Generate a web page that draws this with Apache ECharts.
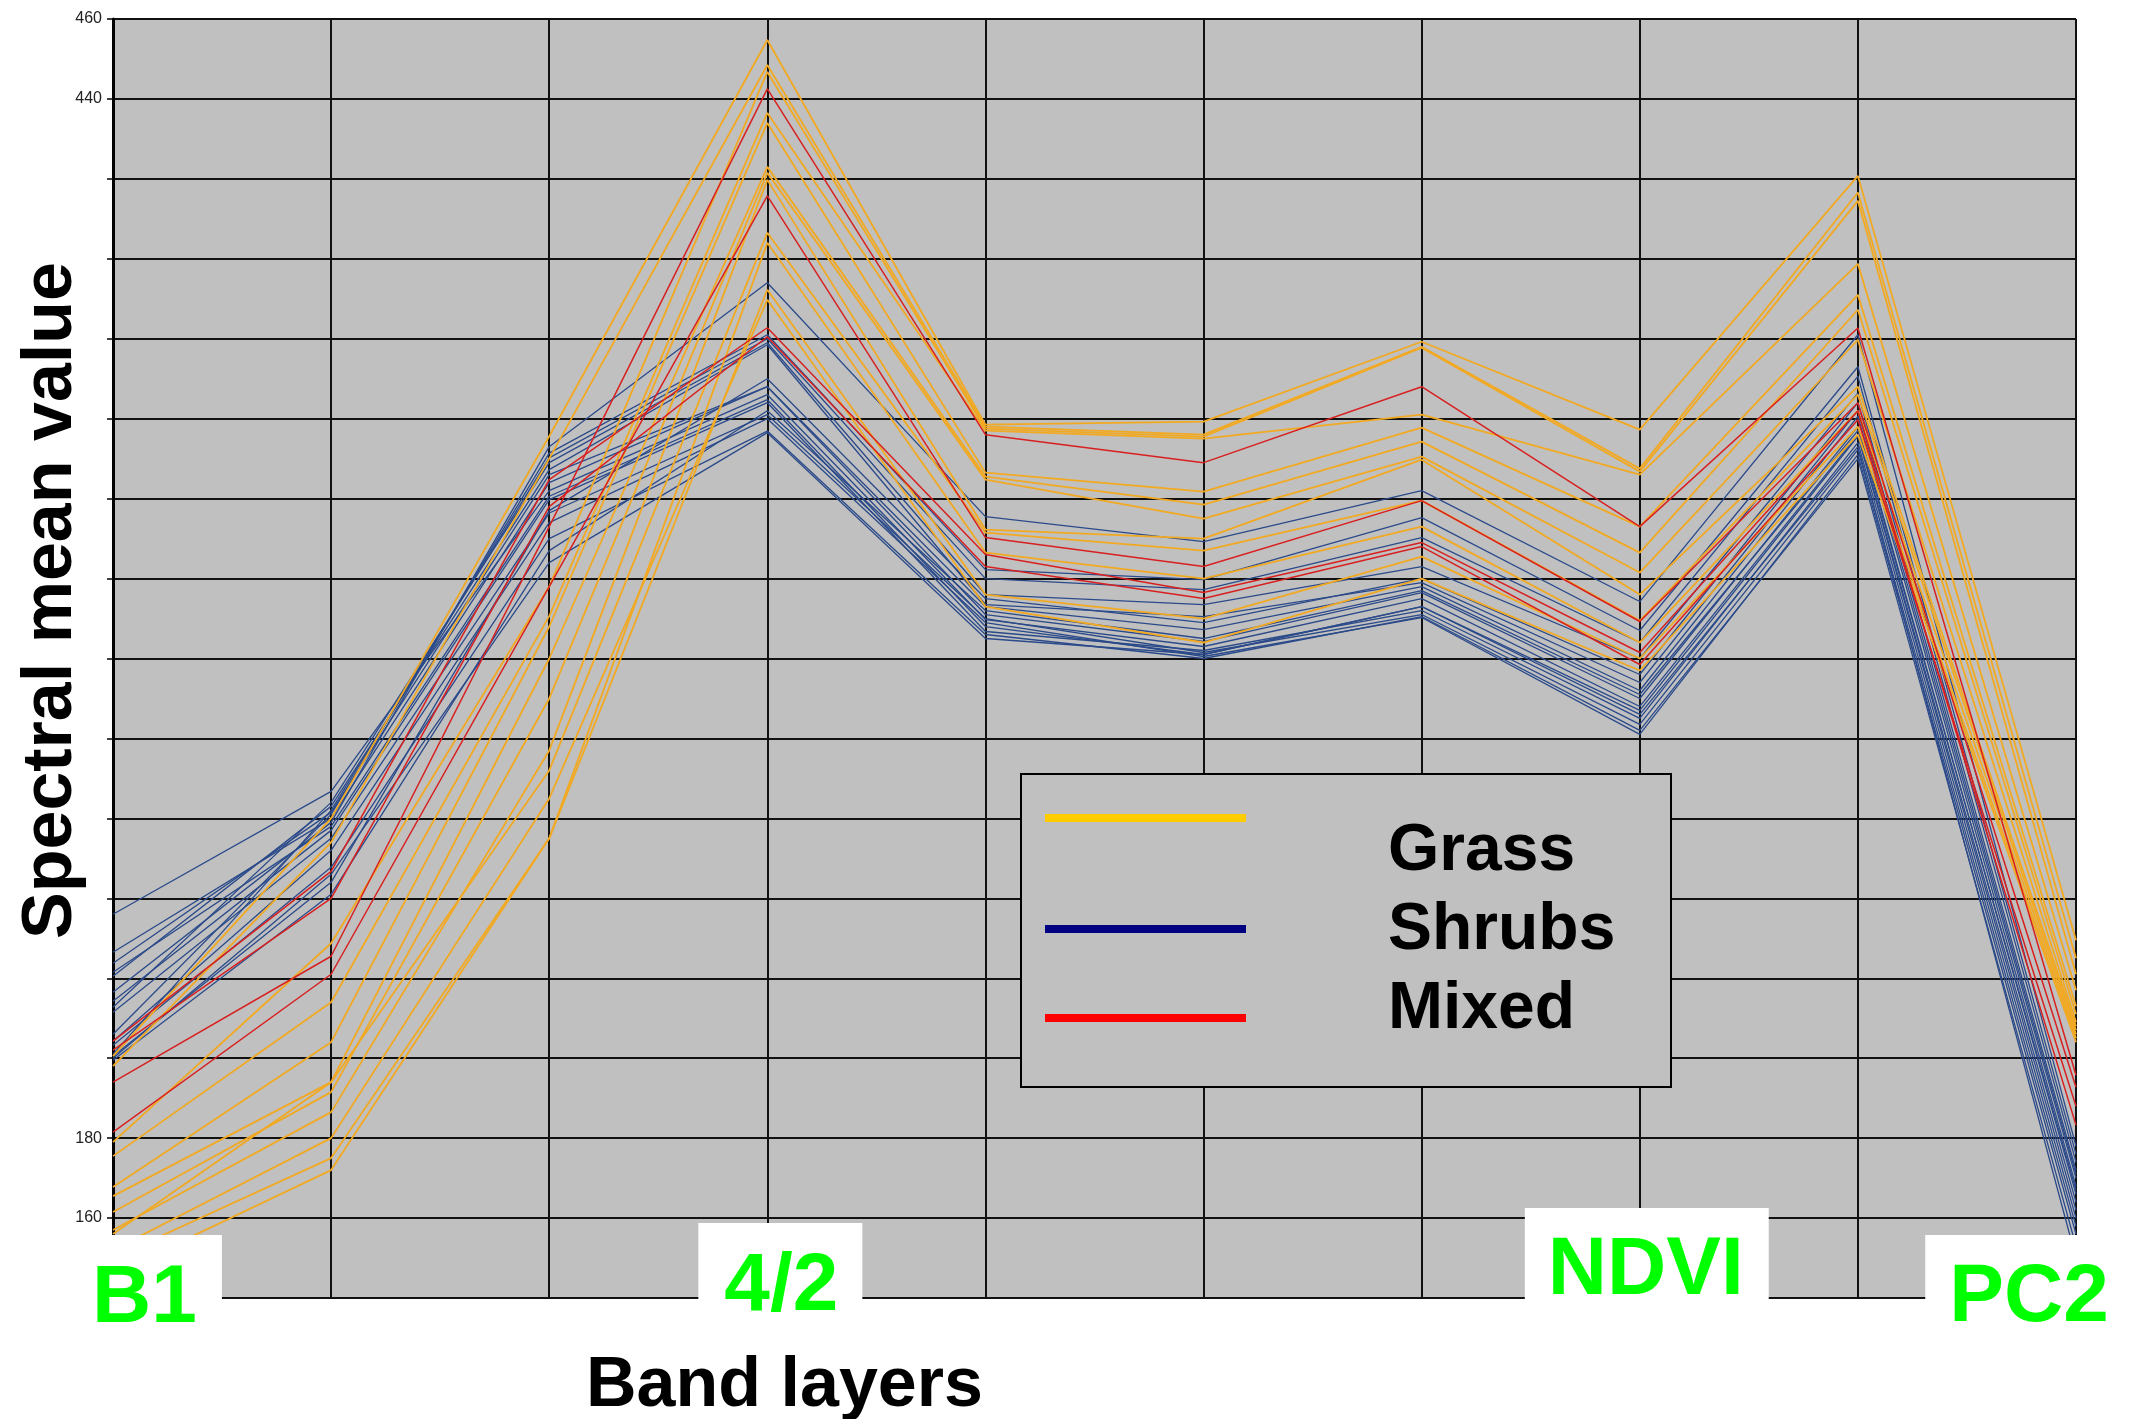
<!DOCTYPE html>
<html><head><meta charset="utf-8">
<script src="https://cdn.jsdelivr.net/npm/echarts@6/dist/echarts.min.js"></script>
<style>html,body{margin:0;padding:0;background:#fff}#c{width:2140px;height:1419px}</style>
</head><body><div id="c"></div>
<script>
// ---- data ----
const bandLayers = ['B1', 'b2', 'b3', '4/2', 'b5', 'b6', 'b7', 'NDVI', 'b9', 'PC2'];
const tickLabels = ['B1', '', '', '4/2', '', '', '', 'NDVI', '', 'PC2'];
const yLabelsShown = [460, 440, 180, 160];
const legendNames = ['Grass', 'Shrubs', 'Mixed'];

const grass = [
  [200.5, 260, 355.6, 454.75, 358.5, 359.25, 379.25, 357.25, 420.75, 229.5],
  [198, 254, 350, 448.5, 358, 356, 378, 347.5, 416.6, 225],
  [179, 228.75, 318, 446.75, 357.5, 355.5, 377.75, 346.75, 414.5, 221],
  [175.5, 214, 310.6, 436.5, 357, 355, 361, 346, 398.75, 217],
  [167.75, 204, 308, 434, 346.5, 341.75, 357.75, 333, 391, 213],
  [165.5, 194, 300, 423, 345.5, 338.5, 354.25, 326.5, 387.25, 211],
  [161.5, 191.5, 290, 421.5, 344.75, 335, 350.5, 321.5, 379.75, 209],
  [157, 186.5, 277, 419.75, 332.25, 330, 349.75, 316, 368, 208],
  [156, 194, 272, 406.5, 331.5, 327, 339.5, 309.5, 366, 207],
  [150, 175, 255, 404, 326.5, 320, 333, 304, 362, 206],
  [146, 172, 255, 392.25, 316, 310, 325.5, 300, 358, 205],
  [152, 180, 265, 389.75, 313, 304, 320, 297, 356, 204]
];

const shrubs = [
  [216.5, 259, 353, 394, 335.5, 329.25, 342, 314.25, 381, 178],
  [206, 261, 351.4, 381, 322.25, 319.75, 335.25, 307, 373, 176],
  [201, 262, 350.2, 380, 320, 317.25, 330.25, 304, 370.6, 174],
  [212.75, 264, 349, 379, 316, 313.5, 323, 300, 366.4, 172],
  [220.5, 263, 347.25, 378.5, 313.5, 310.5, 319, 294, 362, 170],
  [223.75, 261.5, 346, 368, 313, 307.25, 318, 292, 360.6, 168],
  [226.5, 260, 344, 368, 311, 304.25, 316.5, 290, 358, 166],
  [236, 266.75, 342, 366, 309.75, 303, 315, 288, 356, 164],
  [221.5, 258, 340.6, 364.75, 308, 301, 313, 287, 355.6, 162],
  [214.25, 257, 339.75, 364, 306.75, 302, 312, 285, 354, 160],
  [211.5, 255, 336.4, 361, 310, 301.5, 311, 283.5, 352.25, 158],
  [204.25, 252, 334, 360, 309, 300.5, 310.25, 281, 351, 156],
  [203.25, 247.75, 330, 356.9, 306, 300, 310.5, 282, 350, 153],
  [200, 246, 324, 356.5, 305, 301, 313, 286, 353, 150],
  [199.5, 241, 327, 362, 312, 305, 317, 291, 357, 167],
  [200.5, 244, 337, 370, 315, 309, 320, 296, 364, 171]
];

const mixed = [
  [194, 225.5, 333, 442.5, 356, 349, 368, 333, 382.7, 195.75],
  [181.5, 221, 318, 415.75, 330.25, 323, 339.5, 309.25, 364, 192.75],
  [204.25, 246.75, 344.75, 382.75, 326, 316.5, 329, 301.5, 362, 183.25],
  [202, 240, 338, 380.5, 323, 315, 328, 298.5, 359.75, 188]
];

// ---- styles ----
const FONT = '"Liberation Sans", Arial, Helvetica, sans-serif';
const lineColors = { Grass: '#F2A922', Shrubs: '#2B4A8A', Mixed: '#D82020' };
const legendColors = { Grass: '#FFCC00', Shrubs: '#000080', Mixed: '#FF0000' };
const lineWidths = { Grass: 1.8, Shrubs: 1.3, Mixed: 1.5 };

function mk(name, rows) {
  return rows.map(r => ({
    type: 'line', name: name, data: r, xAxisIndex: 0, yAxisIndex: 0,
    symbol: 'none', silent: true, z: 2,
    lineStyle: { color: lineColors[name], width: lineWidths[name] },
    itemStyle: { color: legendColors[name] }
  }));
}

const legText = { fontSize: 66, fontWeight: 'bold', color: '#000', fontFamily: FONT };
const legendRich = {
  Grass: Object.assign({}, legText, { padding: [68, 0, 0, 137] }),
  Shrubs: Object.assign({}, legText, { padding: [4, 0, 0, 137] }),
  Mixed: Object.assign({}, legText, { padding: [0, 0, 16, 137] })
};

const boxBase = { color: '#00FF00', fontSize: 82, fontWeight: 'bold', fontFamily: FONT,
  backgroundColor: '#ffffff' };
const rich = {
  bB1: Object.assign({}, boxBase, { padding: [23, 25, 0, 7] }),
  b42: Object.assign({}, boxBase, { padding: [23, 24, 12, 26] }),
  bND: Object.assign({}, boxBase, { padding: [22, 25, 28, 23] }),
  bPC: Object.assign({}, boxBase, { padding: [22, 0, 1, 24] }),
  s81: { width: 81, fontSize: 10 },
  s26: { width: 26, fontSize: 10 },
  s14: { width: 14, fontSize: 10 },
  s118: { width: 118, fontSize: 10 }
};
const labelFmt = {
  'B1': t => '{s81| }{bB1|' + t + '}',
  '4/2': t => '{s26| }{b42|' + t + '}',
  'NDVI': t => '{s14| }{bND|' + t + '}',
  'PC2': t => '{bPC|' + t + '}{s118| }'
};

const chart = echarts.init(document.getElementById('c'), null, { renderer: 'canvas' });
chart.setOption({
  animation: false,
  backgroundColor: '#ffffff',
  grid: { left: 113, right: 64, top: 19, bottom: 121, show: true,
    backgroundColor: '#C0C0C0', borderWidth: 0, containLabel: false,
    outerBoundsMode: 'none' },
  graphic: [{
    type: 'rect', z: 3, silent: true,
    shape: { x: 1021, y: 774, width: 650, height: 313 },
    style: { fill: '#C0C0C0', stroke: '#000', lineWidth: 2 }
  }],
  legend: {
    data: legendNames.map(n => ({ name: n, itemStyle: { color: legendColors[n] } })),
    orient: 'vertical', left: 1045, top: 814, z: 5,
    padding: 0, itemGap: 13, itemWidth: 201, itemHeight: 8,
    icon: 'rect', selectedMode: false,
    formatter: n => '{' + n + '|' + n + '}',
    textStyle: Object.assign({}, legText, { rich: legendRich })
  },
  xAxis: [
    { type: 'category', data: bandLayers, boundaryGap: false, gridIndex: 0,
      axisLine: { show: false }, axisTick: { show: false }, axisLabel: { show: false },
      splitLine: { show: true, lineStyle: { color: '#111', width: 2 } } },
    { type: 'category', data: bandLayers, boundaryGap: false, gridIndex: 0,
      position: 'bottom', z: 10,
      axisLine: { show: false }, axisTick: { show: false }, splitLine: { show: false },
      axisLabel: { show: true, interval: 0, verticalAlign: 'bottom', margin: 42,
        formatter: (v, i) => tickLabels[i] ? labelFmt[tickLabels[i]](tickLabels[i]) : '',
        rich: rich },
      name: 'Band layers', nameLocation: 'middle', nameGap: 54, nameMoveOverlap: false,
      nameTextStyle: { fontSize: 70, fontWeight: 'bold', color: '#000', fontFamily: FONT,
        padding: [0, 620, 0, 0] } }
  ],
  yAxis: {
    type: 'value', min: 140, max: 460, interval: 20,
    axisLine: { show: true, lineStyle: { color: '#000', width: 3 } },
    axisTick: { show: true, length: 6, lineStyle: { color: '#000', width: 1.5 } },
    axisLabel: { margin: 11, fontSize: 16, color: '#222', fontFamily: FONT,
      formatter: v => yLabelsShown.indexOf(v) >= 0 ? String(v) : '' },
    splitLine: { show: true, lineStyle: { color: '#111', width: 2 } },
    name: 'Spectral mean value', nameLocation: 'middle', nameRotate: 90, nameGap: 26,
    nameMoveOverlap: false,
    nameTextStyle: { fontSize: 70, fontWeight: 'bold', color: '#000', fontFamily: FONT,
      padding: [0, 0, 0, 116] }
  },
  series: [].concat(mk('Shrubs', shrubs), mk('Grass', grass), mk('Mixed', mixed))
});
</script></body></html>
